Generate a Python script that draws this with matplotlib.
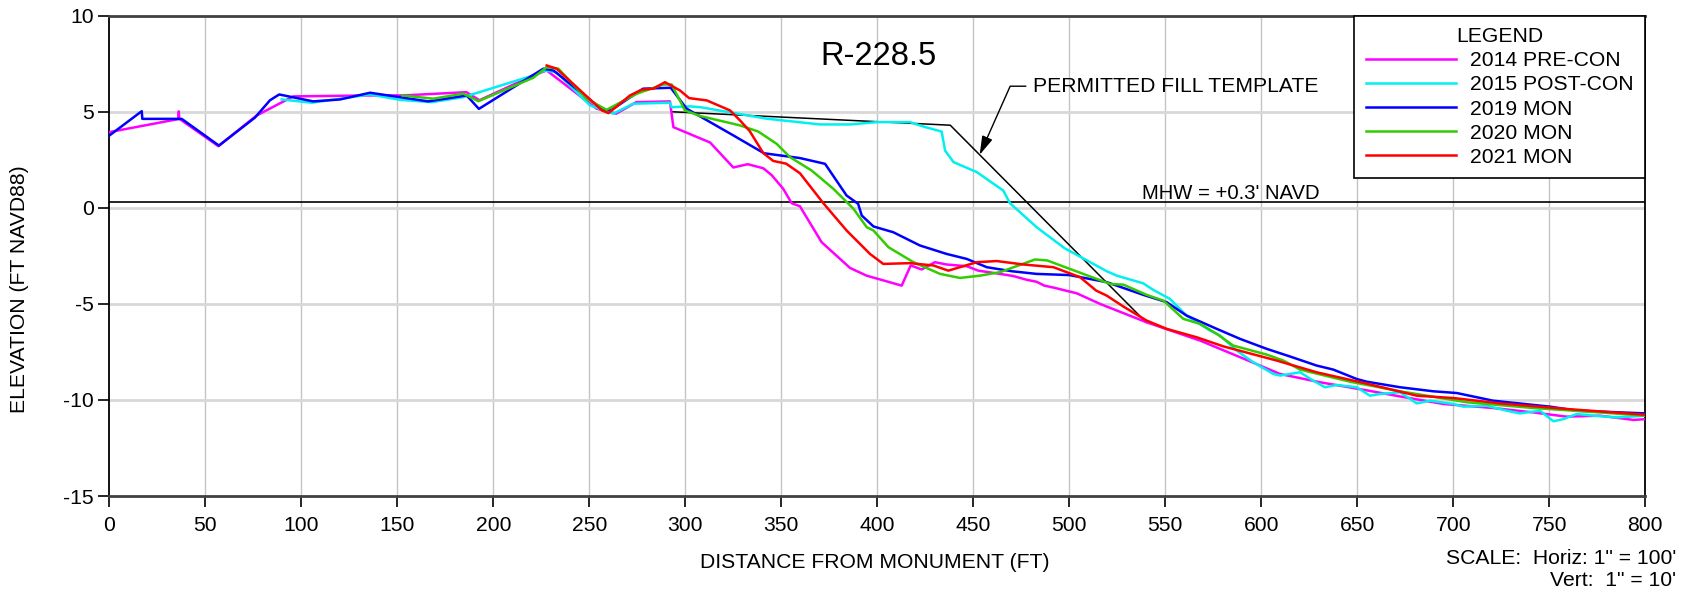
import numpy as np
import matplotlib
matplotlib.use('Agg')
import matplotlib.pyplot as plt

plt.rcParams['font.family'] = ['Liberation Sans', 'DejaVu Sans']
plt.rcParams['axes.unicode_minus'] = False

# profile data (distance ft, elevation ft NAVD88)
x2014 = [0, 36, 36.2, 36.4, 56.8, 76.8, 95.8, 135.8, 153, 186, 192.8, 220.8, 227.8,
         253.8, 264, 274.5, 292, 293.8, 312.9, 325, 332.5, 340.6, 345, 351, 355.4,
         359.7, 371, 385.8, 394.4, 412.7, 417.4, 423.1, 430, 436.1, 446.6, 452.6,
         463.9, 470.8, 478, 483, 487, 491.7, 503.9, 516, 540.3, 568.1, 594.1, 609.8,
         630.6, 654.9, 672.3, 694.8, 720.8, 741.7, 759, 776.4, 793.8, 800]
y2014 = [3.94, 4.62, 5.02, 4.64, 3.21, 4.81, 5.8, 5.85, 5.85, 6.02, 5.6, 6.89, 7.15,
         5.16, 4.9, 5.5, 5.54, 4.2, 3.4, 2.1, 2.27, 2.06, 1.7, 0.99, 0.24,
         0.08, -1.79, -3.13, -3.53, -4.05, -3.0, -3.21, -2.83, -2.95, -3.04, -3.27,
         -3.44, -3.55, -3.75, -3.85, -4.05, -4.15, -4.45, -5.0, -5.96, -6.91, -7.99, -8.65,
         -9.08, -9.5, -9.82, -10.21, -10.42, -10.65, -10.87, -10.82, -11.04, -11.0]

x2015 = [89.8, 105.4, 120.2, 135.8, 151.4, 168, 184.4, 220.8, 226.9, 232.9, 250.4,
         262.5, 272.9, 292, 292.9, 302.4, 307.7, 342.4, 370.2, 385.8, 399.7, 417,
         424, 433.5, 435.3, 439.7, 451.8, 465.6, 469.1, 483, 497.5, 519.5, 524.7,
         538.5, 543.7, 552.4, 561.1, 573.3, 578.5, 587.2, 595.8, 606.3, 609.8, 620.2,
         627.1, 633.2, 639.3, 649.7, 656.6, 661.8, 672.3, 681, 687.9, 700, 705.2,
         717.4, 727.8, 734.7, 745.2, 752.1, 757.3, 764.3, 773, 785.1, 800]
y2015 = [5.64, 5.47, 5.68, 5.9, 5.62, 5.5, 5.76, 6.89, 7.15, 7.06, 5.33,
         4.9, 5.42, 5.47, 5.24, 5.28, 5.24, 4.64, 4.34, 4.34, 4.46, 4.46,
         4.23, 3.97, 2.98, 2.38, 1.86, 0.9, 0.24, -1.01, -2.1, -3.3, -3.53,
         -3.93, -4.27, -4.74, -5.61, -6.39, -6.65, -7.43, -8.04, -8.65, -8.73, -8.56,
         -9.0, -9.34, -9.22, -9.34, -9.78, -9.69, -9.6, -10.18, -10.04, -10.21, -10.35,
         -10.3, -10.56, -10.7, -10.56, -11.11, -11.0, -10.73, -10.82, -10.91, -10.82]

x2019 = [0, 16.9, 17.2, 37.7, 57.1, 75.9, 83.7, 88.5, 106.2, 120.2, 135.8, 166.1,
         186.1, 192.5, 226, 231.3, 257.3, 261.6, 278, 292.4, 300.7, 325, 341, 359.7,
         372.8, 384, 390, 391.9, 398, 408.3, 422.2, 436.1, 446.6, 457, 470, 483, 500,
         519.5, 538.5, 550.7, 561.1, 576.8, 588.9, 602.8, 615, 628.8, 637.5, 649.7,
         654.9, 672.3, 689.6, 701.8, 720.8, 750.4, 764.3, 800]
y2019 = [3.76, 5.03, 4.63, 4.63, 3.24, 4.7, 5.6, 5.9, 5.54, 5.64, 5.99, 5.54,
         5.85, 5.15, 7.24, 7.15, 5.07, 5.1, 6.2, 6.25, 5.16, 3.77, 2.84, 2.59,
         2.29, 0.64, 0.21, -0.4, -0.97, -1.27, -1.96, -2.4, -2.66, -3.09, -3.3, -3.44, -3.5,
         -3.87, -4.53, -4.91, -5.61, -6.3, -6.82, -7.34, -7.74, -8.21, -8.42, -8.91,
         -9.05, -9.34, -9.55, -9.64, -10.04, -10.35, -10.56, -10.7]

x2020 = [152.6, 168.8, 184.4, 192.2, 220.8, 227.8, 233.9, 248.6, 259, 274.7, 288.5,
         292.9, 299.8, 307.7, 328.5, 338, 347.6, 354.5, 365.8, 377.1, 387.6, 394.5,
         398, 405.8, 418.8, 432.7, 443.1, 453.5, 463.9, 482.1, 488.5, 521.2, 528.2,
         540.3, 549, 559.4, 568.1, 576.8, 585.4, 602.8, 611.5, 620.2, 646.2, 672.3,
         707, 741.7, 776.4, 800]
y2020 = [5.85, 5.68, 5.94, 5.55, 6.77, 7.32, 7.24, 5.68, 5.1, 5.94, 6.42,
         6.42, 5.07, 4.78, 4.29, 3.97, 3.33, 2.64, 1.94, 0.99, -0.05, -1.01,
         -1.18, -2.05, -2.83, -3.44, -3.65, -3.53, -3.35, -2.69, -2.74, -3.96, -4.0,
         -4.53, -4.83, -5.78, -6.04, -6.56, -7.17, -7.64, -7.95, -8.42, -9.05, -9.55,
         -10.12, -10.42, -10.65, -10.82]

x2021 = [227.8, 233, 256.6, 260, 271.2, 277.3, 283.3, 289.4, 297.2, 302, 311.2,
         323.3, 328.5, 333.5, 340.6, 345.8, 352.5, 359.7, 371.9, 384, 396.2, 403.1,
         417, 429.2, 437, 451.8, 462.2, 476.1, 491.7, 505.6, 514, 519.5, 528.2,
         540.3, 550.7, 566.4, 580.2, 608, 628.8, 654.9, 681, 700, 724.3, 759, 800]
y2021 = [7.41, 7.24, 5.07, 4.93, 5.85, 6.15, 6.2, 6.54, 6.11, 5.71, 5.59,
         5.07, 4.55, 4.0, 2.85, 2.44, 2.3, 1.8, 0.24, -1.18, -2.4, -2.92,
         -2.88, -3.0, -3.27, -2.83, -2.77, -2.95, -3.09, -3.61, -4.31, -4.57, -5.14,
         -5.87, -6.3, -6.74, -7.21, -7.95, -8.56, -9.15, -9.78, -9.9, -10.18, -10.47, -10.77]

x_tmpl = [293, 438, 540]
y_tmpl = [5.0, 4.3, -5.96]
mhw = 0.3

series = [
    (x2014, y2014, '#ff00ff', '2014 PRE-CON'),
    (x2015, y2015, '#00f0f0', '2015 POST-CON'),
    (x2019, y2019, '#0000ff', '2019 MON'),
    (x2020, y2020, '#33cc00', '2020 MON'),
    (x2021, y2021, '#ff0000', '2021 MON'),
]

fs = 15.2

fig = plt.figure(figsize=(16.83, 5.90), dpi=100)
ax = fig.add_axes([109.3 / 1683, 1 - 496 / 590, 1536 / 1683, (496 - 15.7) / 590])

# grid
for gx in np.arange(50, 800, 50):
    ax.axvline(gx, color='#c4c4c4', lw=1.0, zorder=1)
for gy in [5, 0, -5, -10]:
    ax.axhline(gy, color='#d8d8d8', lw=2.0, zorder=1)

ax.axhline(mhw, color='black', lw=1.2, zorder=2)
ax.plot(x_tmpl, y_tmpl, color='black', lw=1.1, zorder=2)

for xs, ys, c, lab in series:
    ax.plot(xs, ys, color=c, lw=1.8, label=lab, zorder=3)

ax.set_xlim(0, 800)
ax.set_ylim(-15, 10)
ax.set_xticks(np.arange(0, 801, 50))
ax.set_yticks([10, 5, 0, -5, -10, -15])
ax.tick_params(axis='both', labelsize=fs, direction='out', length=8, width=1.2)
ax.tick_params(axis='x', pad=6.5)
ax.tick_params(axis='y', pad=3)
for side in ['left', 'right']:
    ax.spines[side].set_color('black')
    ax.spines[side].set_linewidth(1.3)
for side in ['top', 'bottom']:
    ax.spines[side].set_color('#404040')
    ax.spines[side].set_linewidth(2.0)

ax.set_xlabel('DISTANCE FROM MONUMENT (FT)', fontsize=fs)
ax.set_ylabel('ELEVATION (FT NAVD88)', fontsize=fs)
ax.xaxis.set_label_coords(0.4985, -0.118)
ax.yaxis.set_label_coords(-0.0523, 0.43)

ax.text(400.5, 7.9, 'R-228.5', fontsize=23.5, ha='center', va='center')
ax.text(538, 0.72, "MHW = +0.3' NAVD", fontsize=14.6, ha='left', va='center')

ax.annotate('PERMITTED FILL TEMPLATE', xy=(453.3, 2.76), xytext=(481, 6.33),
            fontsize=fs, ha='left', va='center',
            arrowprops=dict(arrowstyle='-|>,head_length=0.75,head_width=0.22',
                            connectionstyle='angle,angleA=0,angleB=66,rad=0',
                            color='black', lw=1.0, relpos=(0, 0.5),
                            shrinkA=3, shrinkB=0))

leg = ax.legend(loc='upper right', bbox_to_anchor=(1, 1), fontsize=fs,
                title='LEGEND', title_fontsize=fs, frameon=True, fancybox=False,
                framealpha=1, edgecolor='black', handlelength=4.3,
                handletextpad=0.65, labelspacing=0.24, borderpad=0.55,
                borderaxespad=0)
leg.get_frame().set_linewidth(1.2)
leg.set_zorder(5)

fig.text(1676 / 1683, 1 - 558 / 590, 'SCALE:  Horiz: 1" = 100\'', fontsize=fs,
         ha='right', va='center')
fig.text(1676 / 1683, 1 - 581 / 590, 'Vert:  1" = 10\'', fontsize=fs,
         ha='right', va='center')

fig.savefig('out.png', dpi=100)
